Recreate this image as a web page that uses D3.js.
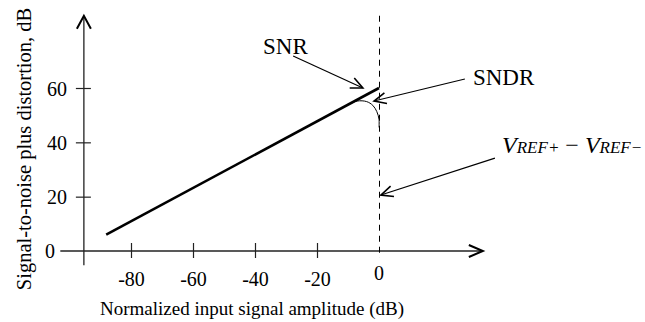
<!doctype html>
<html>
<head>
<meta charset="UTF-8">
<title>snr</title>
<script src="https://d3js.org/d3.v7.min.js"></script>
<style>
    body{margin:0;background:#fff;}
    svg text{font-family:"Liberation Serif","Times New Roman",Tinos,Times,serif;fill:#000;}
</style>
</head>
<body>
<script>
// data
var xTicks = [-80, -60, -40, -20];
var yTicks = [20, 40, 60];
var snr = [[-88, 6], [0, 60]];
var sndr = [[-10, 53.9], [-7, 55.2], [-4, 55.0], [-2, 53.6], [-0.7, 51.3], [0, 48.5], [0, 45.5]];
var fullScale = 0;
var labels = ["SNR", "SNDR"];
var labelPos = [[-37.4, 72.5], [30.3, 61.1]];
var arrowFrom = [[-27.7, 71.8], [27.7, 63.3], [37.4, 34.2]];
var arrowTo = [[-5.2, 60], [-1.6, 55.2], [0.6, 20.6]];
var vrefPos = [39.7, 36.1];

var svg = d3.select("body").append("svg").attr("width", 645).attr("height", 322);

var x = d3.scaleLinear().domain([-80, 0]).range([131, 379]);
var y = d3.scaleLinear().domain([0, 60]).range([251, 88]);

// open chevron arrowhead at tip, pointing along (from -> tip)
function head(g, fx, fy, tx, ty, len, half, w){
    var a = Math.atan2(ty - fy, tx - fx);
    var c = Math.cos(a), s = Math.sin(a);
    var bx = tx - c*len, by = ty - s*len;
    g.append("path")
        .attr("d", "M" + (bx - s*half) + "," + (by + c*half) + "L" + tx + "," + ty + "L" + (bx + s*half) + "," + (by - c*half))
        .attr("fill", "none").attr("stroke", "#000").attr("stroke-width", w)
        .attr("stroke-linejoin", "miter");
}

// axes
var xa = svg.append("g").attr("transform", "translate(0," + y(0) + ")")
    .call(d3.axisBottom(x).tickValues(xTicks).tickFormat(function(d){ return String(d); }).tickSizeOuter(0));
xa.attr("font-family", null);
xa.select(".domain").remove();
xa.selectAll(".tick line").attr("y1", -8).attr("y2", 7).attr("stroke", "#222").attr("stroke-width", 1.2);
xa.selectAll(".tick text").attr("y", 35).attr("dy", 0).attr("font-size", 20).attr("fill", "#000");

var ya = svg.append("g").attr("transform", "translate(" + x(-95.2) + ",0)")
    .call(d3.axisLeft(y).tickValues(yTicks).tickFormat(function(d){ return String(d); }).tickSizeOuter(0));
ya.attr("font-family", null);
ya.select(".domain").remove();
ya.selectAll(".tick line").attr("x1", -8).attr("x2", 7).attr("stroke", "#222").attr("stroke-width", 1.2);
ya.selectAll(".tick text").attr("x", -17).attr("dy", "0.35em").attr("font-size", 20).attr("fill", "#000");

// axis lines with arrows
svg.append("line").attr("x1", x(-102.8)).attr("x2", x(33.5)).attr("y1", y(0)).attr("y2", y(0))
    .attr("stroke", "#222").attr("stroke-width", 1.3);
head(svg, x(0), y(0), x(33.5), y(0), 14, 6, 2);
svg.append("line").attr("x1", x(-95.2)).attr("x2", x(-95.2)).attr("y1", y(-5.2)).attr("y2", y(86.6))
    .attr("stroke", "#222").attr("stroke-width", 1.3);
head(svg, x(-95.2), y(0), x(-95.2), y(86.6), 13, 7, 2);

// zero labels
svg.append("text").attr("x", x(-104.5)).attr("y", y(0)).attr("dy", "0.35em")
    .attr("text-anchor", "end").attr("font-size", 20).text("0");
svg.append("text").attr("x", x(fullScale)).attr("y", y(0) + 29).attr("text-anchor", "middle")
    .attr("font-size", 20).text("0");

// full-scale dashed line
svg.append("line").attr("x1", x(fullScale) + 0.5).attr("x2", x(fullScale) + 0.5).attr("y1", y(86.6)).attr("y2", y(-2.5))
    .attr("stroke", "#000").attr("stroke-width", 1).attr("stroke-dasharray", "6,5");

// curves
var line = d3.line().x(function(d){ return x(d[0]); }).y(function(d){ return y(d[1]); });
svg.append("path").datum(snr).attr("d", line).attr("fill", "none")
    .attr("stroke", "#000").attr("stroke-width", 2.6);
svg.append("path").datum(sndr).attr("d", line.curve(d3.curveCatmullRom.alpha(0.5))).attr("fill", "none")
    .attr("stroke", "#000").attr("stroke-width", 1);

// annotations
for(var i = 0; i < labels.length; i++){
    svg.append("text").attr("x", x(labelPos[i][0])).attr("y", y(labelPos[i][1]))
        .attr("font-size", 23).text(labels[i]);
}
for(var j = 0; j < arrowFrom.length; j++){
    var fx = x(arrowFrom[j][0]), fy = y(arrowFrom[j][1]);
    var tx = x(arrowTo[j][0]), ty = y(arrowTo[j][1]);
    svg.append("line").attr("x1", fx).attr("y1", fy).attr("x2", tx).attr("y2", ty)
        .attr("stroke", "#000").attr("stroke-width", 1.2);
    head(svg, fx, fy, tx, ty, 12, 5.5, 1.6);
}

var vt = svg.append("text").attr("x", x(vrefPos[0])).attr("y", y(vrefPos[1]))
    .attr("font-style", "italic").attr("font-size", 24);
vt.append("tspan").text("V");
vt.append("tspan").attr("font-size", 17).text("REF+");
vt.append("tspan").attr("font-style", "normal").text(" \u2212 ");
vt.append("tspan").text("V");
vt.append("tspan").attr("font-size", 17).text("REF\u2212");

// axis titles
svg.append("text").attr("x", 252).attr("y", 315).attr("text-anchor", "middle")
    .attr("font-size", 19).text("Normalized input signal amplitude (dB)");
svg.append("text").attr("transform", "translate(31,149) rotate(-90)").attr("text-anchor", "middle")
    .attr("font-size", 20.5).text("Signal-to-noise plus distortion, dB");
</script>
</body>
</html>
